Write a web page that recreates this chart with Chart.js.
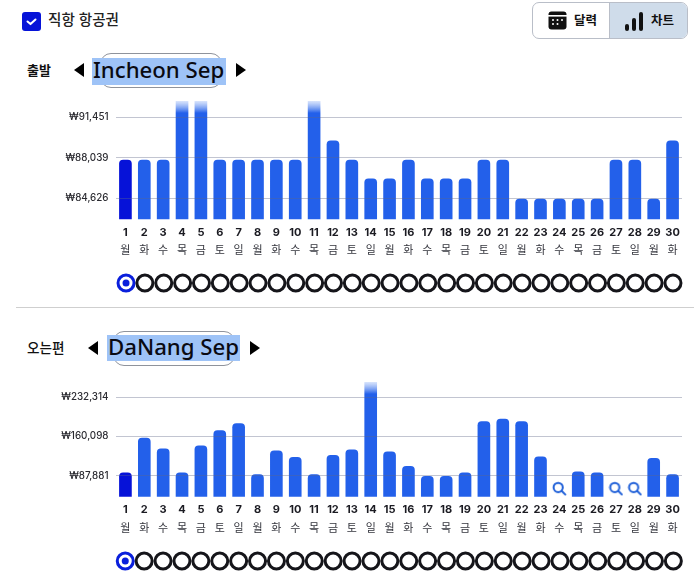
<!DOCTYPE html>
<html lang="ko"><head><meta charset="utf-8">
<script src="https://cdn.jsdelivr.net/npm/chart.js@4"></script>
<style>
html,body{margin:0;padding:0;background:#fff;width:700px;height:588px;overflow:hidden;font-family:Inter,"Noto Sans CJK KR","Noto Sans",sans-serif;color:#111}
.a{position:absolute}
canvas{position:absolute;left:0}
.hl{position:absolute;background:#9ec3f7}
.box{position:absolute;border:1px solid #8f939c;border-radius:11px;box-sizing:border-box}
.ttl{position:absolute;font-family:"Noto Sans",sans-serif;font-size:22.2px;line-height:26px;color:#0a0a12;white-space:nowrap;font-weight:500}
.lbl{position:absolute;font-size:13px;font-weight:700;line-height:18px}
.tr{position:absolute;width:0;height:0}
</style></head><body>
<!-- top bar -->
<div class="a" style="left:22px;top:12px;width:19px;height:19px;border-radius:3px;background:#0613d8">
<svg width="19" height="19" viewBox="0 0 19 19"><path d="M5.5 9.5l3 2.6 5-4.6" fill="none" stroke="#fff" stroke-width="2" stroke-linecap="round" stroke-linejoin="round"/></svg></div>
<div class="a" style="left:48px;top:10px;font-size:14.6px;line-height:20px;font-weight:500;color:#222">직항 항공권</div>
<div class="a" style="left:532px;top:2px;width:156px;height:37px;border:1px solid #b9bec8;border-radius:7px;box-sizing:border-box;overflow:hidden;background:#fff">
 <div class="a" style="left:76px;top:0;width:79px;height:37px;background:#cfdcea;border-left:1px solid #b9bec8"></div>
 <svg class="a" style="left:15px;top:8px" width="19" height="19" viewBox="0 0 19 19"><rect x="0.5" y="0.5" width="18" height="18" rx="3" fill="#111"/><rect x="0" y="4" width="19" height="1.6" fill="#fff"/><g fill="#fff"><circle cx="5" cy="9" r="1"/><circle cx="9.5" cy="9" r="1"/><circle cx="14" cy="9" r="1"/><circle cx="5" cy="13" r="1"/><circle cx="9.5" cy="13" r="1"/></g></svg>
 <div class="a" style="left:41px;top:9px;font-size:12.5px;line-height:18px;font-weight:700">달력</div>
 <svg class="a" style="left:91px;top:8px" width="19" height="21" viewBox="0 0 19 21"><g fill="#111"><rect x="1" y="13" width="4" height="7" rx="2"/><rect x="8" y="7" width="4" height="13" rx="2"/><rect x="15" y="1" width="4" height="19" rx="2"/></g></svg>
 <div class="a" style="left:118px;top:9px;font-size:12.5px;line-height:18px;font-weight:700">차트</div>
</div>

<div class="lbl" style="left:27px;top:61px;font-size:13px">출발</div>
<div class="tr" style="left:74px;top:63px;border-top:7px solid transparent;border-bottom:7px solid transparent;border-right:10px solid #000"></div>
<div class="box" style="left:100px;top:53px;width:122px;height:35px"></div>
<div class="hl" style="left:92px;top:58px;width:134px;height:27px"></div>
<div class="ttl" style="left:93px;top:57px">Incheon Sep</div>
<div class="tr" style="left:236px;top:63px;border-top:7px solid transparent;border-bottom:7px solid transparent;border-left:10px solid #000"></div>

<div class="a" style="left:16px;top:307px;width:678px;height:1px;background:#cfcfcf"></div>

<div class="lbl" style="left:27px;top:339px;font-size:13.6px;font-weight:500">오는편</div>
<div class="tr" style="left:88px;top:341px;border-top:7px solid transparent;border-bottom:7px solid transparent;border-right:10px solid #000"></div>
<div class="box" style="left:113px;top:331px;width:122px;height:35px"></div>
<div class="hl" style="left:107px;top:335px;width:133px;height:26px"></div>
<div class="ttl" style="left:108px;top:334px">DaNang Sep</div>
<div class="tr" style="left:250px;top:341px;border-top:7px solid transparent;border-bottom:7px solid transparent;border-left:10px solid #000"></div>

<canvas id="c1" width="700" height="165" style="top:95px"></canvas>
<canvas id="s1" width="700" height="30" style="top:268px"></canvas>
<canvas id="c2" width="700" height="163" style="top:374px"></canvas>
<canvas id="s2" width="700" height="30" style="top:546px"></canvas>

<script>
const days=["1","2","3","4","5","6","7","8","9","10","11","12","13","14","15","16","17","18","19","20","21","22","23","24","25","26","27","28","29","30"];
const weekdays=["월","화","수","목","금","토","일","월","화","수","목","금","토","일","월","화","수","목","금","토","일","월","화","수","목","금","토","일","월","화"];
const outbound=[87850,87850,87850,96000,96000,87850,87850,87850,87850,87850,96000,89450,87850,86270,86270,87850,86270,86270,86270,87850,87850,84570,84570,84570,84570,84570,87850,87850,84570,89450];
const inbound=[93300,157000,137200,93300,142600,170900,183600,89700,133600,121500,89700,125100,135400,300000,131800,105200,86600,86600,93300,187200,191900,187200,122700,null,95100,93300,null,null,119700,89700];
const outboundTicks=[84626,88039,91451];
const inboundTicks=[87881,160098,232314];
const searchDays=[null,null,null,null,null,null,null,null,null,null,null,null,null,null,null,null,null,null,null,null,null,null,null,64000,null,null,64000,64000,null,null];
const sliderRow=[0,0,0,0,0,0,0,0,0,0,0,0,0,0,0,0,0,0,0,0,0,0,0,0,0,0,0,0,0,0];
const selectedDot=[0];

const BLUE="#2360ea", DARK="#0612d8", FONT='Inter,"Noto Sans CJK KR","Noto Sans",sans-serif';

function searchIcon(){
  const c=document.createElement('canvas');c.width=15;c.height=15;
  const g=c.getContext('2d');g.strokeStyle='#2060d8';g.lineWidth=2;g.lineCap='round';
  g.beginPath();g.arc(6.3,6.3,4.6,0,Math.PI*2);g.stroke();
  g.beginPath();g.moveTo(9.8,9.8);g.lineTo(13.4,13.4);g.stroke();
  return c;
}
const icon=searchIcon();

function fill(ctx){
  const base=ctx.dataIndex===0?DARK:BLUE, a=ctx.chart.chartArea;
  if(!a) return base;
  const g=ctx.chart.ctx.createLinearGradient(0,a.top,0,a.top+12);
  g.addColorStop(0,'rgba(190,210,250,0.6)');g.addColorStop(1,base);
  return g;
}

function barChart(id,values,ticks,ymin,ymax,icons,padBottom){
  const ds=[{type:'bar',data:values,backgroundColor:fill,barThickness:12,borderRadius:4,borderSkipped:false,order:2}];
  if(icons) ds.push({type:'line',data:icons,showLine:false,pointStyle:icon,pointRadius:7,order:1});
  new Chart(document.getElementById(id),{
    data:{labels:days,datasets:ds},
    options:{responsive:false,animation:false,events:[],
      layout:{padding:{top:6,right:18,bottom:padBottom,left:0}},
      plugins:{legend:{display:false},tooltip:{enabled:false}},
      scales:{
        x:{type:'category',offset:true,position:'bottom',grid:{display:false,drawTicks:false},border:{display:false},
           afterFit(s){s.height=20},
           ticks:{autoSkip:false,maxRotation:0,padding:6.5,color:'#1b1b22',font:{family:FONT,size:11,weight:'700'}}},
        x2:{type:'category',axis:'x',labels:weekdays,offset:true,position:'bottom',grid:{display:false,drawTicks:false},border:{display:false},
           afterFit(s){s.height=20},
           ticks:{autoSkip:false,maxRotation:0,padding:5,color:'#33343c',font:{family:FONT,size:11,weight:'400'}}},
        y:{min:ymin,max:ymax,position:'left',
           afterBuildTicks(s){s.ticks=ticks.map(v=>({value:v}))},
           afterFit(s){s.width=116;s.paddingTop=0;s.paddingBottom=0},
           grid:{color:'rgba(95,103,135,0.38)',lineWidth:1,drawTicks:false,z:1},border:{display:false},
           ticks:{padding:7.5,color:'#2a2a30',font:{family:FONT,size:9.8,weight:'500'},
             callback:v=>'₩'+Number(v).toLocaleString('en-US')}}
      }
    }
  });
}
barChart('c1',outbound,outboundTicks,82884,92791,null,0.7);
barChart('c2',inbound,inboundTicks,49250,259900,searchDays,0.3);

function slider(id,left,right){
  new Chart(document.getElementById(id),{
    data:{labels:days,datasets:[
      {type:'line',data:selectedDot,showLine:false,pointRadius:3.5,pointBackgroundColor:'#0a1fdc',pointBorderWidth:0,clip:false,order:1},
      {type:'line',data:sliderRow,showLine:false,clip:false,order:2,pointRadius:8,pointBorderWidth:3,
       pointBackgroundColor:'#fff',
       pointBorderColor:c=>c.dataIndex===0?'#0a1fdc':'#15151a'}
    ]},
    options:{responsive:false,animation:false,events:[],
      layout:{padding:{left:left,right:right,top:0,bottom:0}},
      plugins:{legend:{display:false},tooltip:{enabled:false}},
      scales:{x:{type:'category',offset:true,display:false},y:{min:-1,max:1,display:false}}
    }
  });
}
slider('s1',116.6,17.6);
slider('s2',115.8,17.2);
</script>
</body></html>
